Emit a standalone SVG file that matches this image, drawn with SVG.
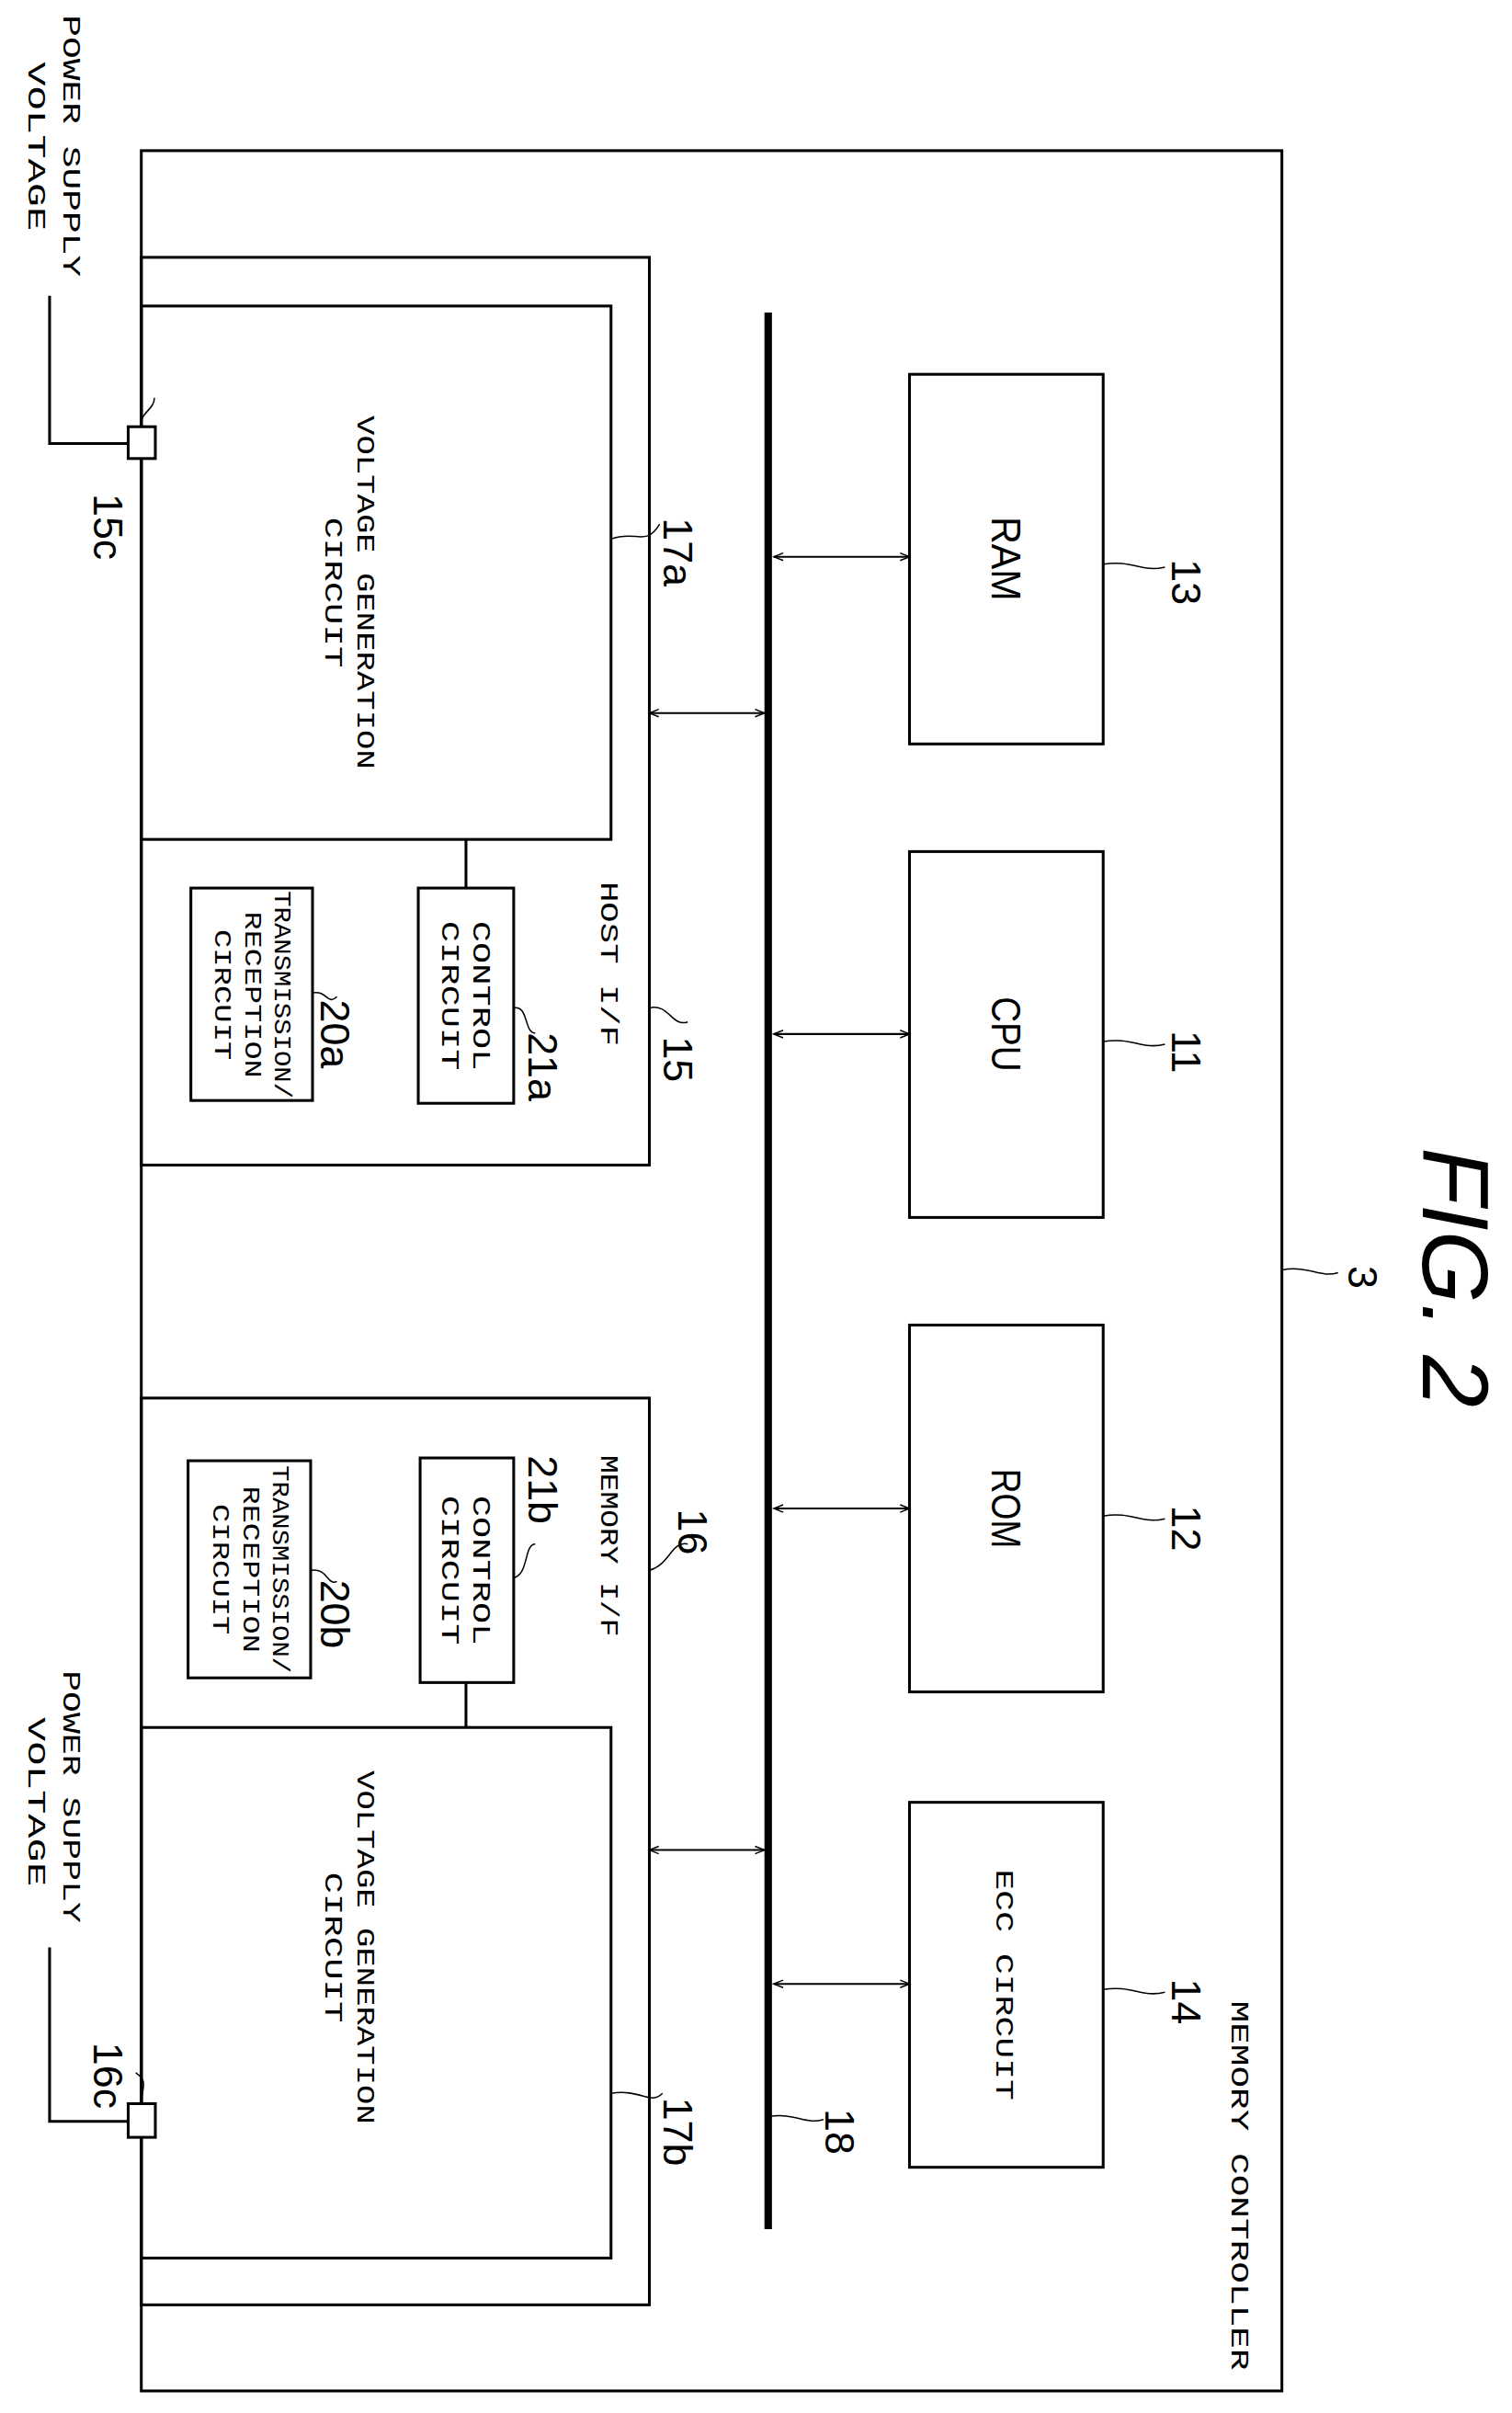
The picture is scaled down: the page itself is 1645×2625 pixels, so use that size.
<svg xmlns="http://www.w3.org/2000/svg" width="1645" height="2625" viewBox="0 0 1645 2625">
<style>
.b{fill:none;stroke:#000;stroke-width:3}
.l{fill:none;stroke:#000;stroke-width:1.5}
.t{font-family:"Liberation Mono",monospace;font-size:28px;fill:#000;text-anchor:middle}
.n{font-family:"Liberation Sans",sans-serif;font-size:44px;fill:#000;text-anchor:middle}
.a{stroke:#000;stroke-width:2;fill:none;marker-start:url(#h);marker-end:url(#h)}
</style>
<defs><marker id="h" viewBox="0 0 10 10" refX="10" refY="5" markerWidth="14" markerHeight="10" markerUnits="userSpaceOnUse" orient="auto-start-reverse"><path d="M0,1 L10,5 L0,9" fill="none" stroke="#000" stroke-width="1.5"/></marker></defs>
<rect width="1645" height="2625" fill="#fff"/>
<g transform="scale(1.018)">
<g id="controller3"><rect class="b" x="151" y="161" width="1219" height="2394"/>
<text class="t" transform="translate(1316,2138) rotate(90)" style="text-anchor:start" textLength="395" lengthAdjust="spacingAndGlyphs">MEMORY CONTROLLER</text></g>
<g id="host15"><rect class="b" x="151" y="275" width="543" height="970"/>
<text class="t" transform="translate(642,1030) rotate(90)" textLength="176" lengthAdjust="spacingAndGlyphs">HOST I/F</text></g>
<g id="vgc17a"><rect class="b" x="151" y="327" width="502" height="570"/>
<text class="t" transform="translate(392,633) rotate(90)"><tspan x="0" dy="10" textLength="378" lengthAdjust="spacingAndGlyphs">VOLTAGE GENERATION</tspan><tspan x="0" dy="34" textLength="161" lengthAdjust="spacingAndGlyphs">CIRCUIT</tspan></text></g>
<g id="ctrl21a"><rect class="b" x="447" y="949" width="102" height="230"/>
<text class="t" transform="translate(498,1064) rotate(90)"><tspan x="0" dy="-8" textLength="160" lengthAdjust="spacingAndGlyphs">CONTROL</tspan><tspan x="0" dy="34" textLength="160" lengthAdjust="spacingAndGlyphs">CIRCUIT</tspan></text></g>
<g id="trx20a"><rect class="b" x="204" y="949" width="130" height="227"/>
<text class="t" transform="translate(268,1063) rotate(90)" style="font-size:26px"><tspan x="0" dy="-26" textLength="222" lengthAdjust="spacingAndGlyphs">TRANSMISSION/</tspan><tspan x="0" dy="32" textLength="178" lengthAdjust="spacingAndGlyphs">RECEPTION</tspan><tspan x="0" dy="32" textLength="140" lengthAdjust="spacingAndGlyphs">CIRCUIT</tspan></text></g>
<g id="mem16"><rect class="b" x="151" y="1494" width="543" height="969"/>
<text class="t" transform="translate(642,1652) rotate(90)" textLength="194" lengthAdjust="spacingAndGlyphs">MEMORY I/F</text></g>
<g id="vgc17b"><rect class="b" x="151" y="1846" width="502" height="567"/>
<text class="t" transform="translate(392,2081) rotate(90)"><tspan x="0" dy="10" textLength="378" lengthAdjust="spacingAndGlyphs">VOLTAGE GENERATION</tspan><tspan x="0" dy="34" textLength="161" lengthAdjust="spacingAndGlyphs">CIRCUIT</tspan></text></g>
<g id="ctrl21b"><rect class="b" x="449" y="1558" width="100" height="240"/>
<text class="t" transform="translate(498,1678) rotate(90)"><tspan x="0" dy="-8" textLength="160" lengthAdjust="spacingAndGlyphs">CONTROL</tspan><tspan x="0" dy="34" textLength="160" lengthAdjust="spacingAndGlyphs">CIRCUIT</tspan></text></g>
<g id="trx20b"><rect class="b" x="201" y="1561" width="131" height="232"/>
<text class="t" transform="translate(266,1677) rotate(90)" style="font-size:26px"><tspan x="0" dy="-26" textLength="222" lengthAdjust="spacingAndGlyphs">TRANSMISSION/</tspan><tspan x="0" dy="32" textLength="178" lengthAdjust="spacingAndGlyphs">RECEPTION</tspan><tspan x="0" dy="32" textLength="140" lengthAdjust="spacingAndGlyphs">CIRCUIT</tspan></text></g>
<g id="ram13"><rect class="b" x="972" y="400" width="207" height="395"/><text class="n" transform="translate(1075,597) rotate(90)" dy="15" textLength="90" lengthAdjust="spacingAndGlyphs">RAM</text></g>
<g id="cpu11"><rect class="b" x="972" y="910" width="207" height="391"/><text class="n" transform="translate(1075,1105) rotate(90)" dy="15" textLength="80" lengthAdjust="spacingAndGlyphs">CPU</text></g>
<g id="rom12"><rect class="b" x="972" y="1416" width="207" height="392"/><text class="n" transform="translate(1075,1612) rotate(90)" dy="15" textLength="85" lengthAdjust="spacingAndGlyphs">ROM</text></g>
<g id="ecc14"><rect class="b" x="972" y="1926" width="207" height="390"/><text class="t" transform="translate(1075,2121) rotate(90)" dy="10" textLength="247" lengthAdjust="spacingAndGlyphs">ECC CIRCUIT</text></g>
<g id="pad15c"><rect x="137" y="456" width="29" height="34" fill="#fff" stroke="#000" stroke-width="3"/></g>
<g id="pad16c"><rect x="137" y="2248" width="29" height="36" fill="#fff" stroke="#000" stroke-width="3"/></g>
<g id="power1"><text class="t" transform="translate(0,16) rotate(90)" style="text-anchor:start"><tspan x="0" y="-68" textLength="280" lengthAdjust="spacingAndGlyphs">POWER SUPPLY</tspan><tspan x="50" y="-30" textLength="181" lengthAdjust="spacingAndGlyphs">VOLTAGE</tspan></text></g>
<g id="power2"><text class="t" transform="translate(0,1785) rotate(90)" style="text-anchor:start"><tspan x="0" y="-68" textLength="270" lengthAdjust="spacingAndGlyphs">POWER SUPPLY</tspan><tspan x="50" y="-30" textLength="181" lengthAdjust="spacingAndGlyphs">VOLTAGE</tspan></text></g>
<g id="connectors">
<line x1="821" y1="334" x2="821" y2="2382" stroke="#000" stroke-width="8"/>
<line class="a" x1="827" y1="595" x2="972" y2="595"/>
<line class="a" x1="827" y1="1105" x2="972" y2="1105"/>
<line class="a" x1="827" y1="1612" x2="972" y2="1612"/>
<line class="a" x1="827" y1="2120" x2="972" y2="2120"/>
<line class="a" x1="694" y1="762" x2="817" y2="762"/>
<line class="a" x1="694" y1="1977" x2="817" y2="1977"/>
<line x1="498" y1="897" x2="498" y2="949" stroke="#000" stroke-width="3"/>
<line x1="498" y1="1798" x2="498" y2="1846" stroke="#000" stroke-width="3"/>
<polyline class="b" points="137,474 53,474 53,316"/>
<polyline class="b" points="137,2267 53,2267 53,2081"/>
<path class="l" d="M1179,603 C1210,598 1220,612 1245,606"/>
<path class="l" d="M1179,1113 C1210,1108 1220,1122 1245,1116"/>
<path class="l" d="M1179,1620 C1210,1615 1220,1629 1245,1623"/>
<path class="l" d="M1179,2126 C1210,2121 1220,2135 1245,2129"/>
<path class="l" d="M1370,1357 C1400,1352 1410,1366 1430,1360"/>
<path class="l" d="M821,2262 C850,2257 860,2271 880,2265"/>
<path class="l" d="M653,576 C680,566 690,585 705,560"/>
<path class="l" d="M694,1077 C715,1072 718,1098 735,1092"/>
<path class="l" d="M549,1077 C565,1074 560,1104 572,1104"/>
<path class="l" d="M334,1061 C350,1058 350,1075 360,1065"/>
<path class="l" d="M694,1678 C715,1673 718,1646 735,1650"/>
<path class="l" d="M549,1686 C565,1683 560,1650 572,1650"/>
<path class="l" d="M332,1678 C350,1675 350,1695 360,1690"/>
<path class="l" d="M653,2237 C685,2232 695,2250 708,2237"/>
<path class="l" d="M150,456 C150,440 165,438 165,425"/>
<path class="l" d="M152,2248 C150,2232 160,2225 145,2215"/>
</g>
<g id="labels">
<text class="n" transform="translate(1267,622) rotate(90)" dy="15">13</text>
<text class="n" transform="translate(1267,1124) rotate(90)" dy="15">11</text>
<text class="n" transform="translate(1267,1633) rotate(90)" dy="15">12</text>
<text class="n" transform="translate(1267,2139) rotate(90)" dy="15">14</text>
<text class="n" transform="translate(1456,1365) rotate(90)" dy="15">3</text>
<text class="n" transform="translate(897,2278) rotate(90)" dy="15">18</text>
<text class="n" transform="translate(724,590) rotate(90)" dy="15">17a</text>
<text class="n" transform="translate(724,1132) rotate(90)" dy="15">15</text>
<text class="n" transform="translate(580,1140) rotate(90)" dy="15">21a</text>
<text class="n" transform="translate(358,1105) rotate(90)" dy="15">20a</text>
<text class="n" transform="translate(115,563) rotate(90)" dy="15">15c</text>
<text class="n" transform="translate(740,1637) rotate(90)" dy="15">16</text>
<text class="n" transform="translate(580,1592) rotate(90)" dy="15">21b</text>
<text class="n" transform="translate(358,1725) rotate(90)" dy="15">20b</text>
<text class="n" transform="translate(724,2278) rotate(90)" dy="15">17b</text>
<text class="n" transform="translate(115,2218) rotate(90)" dy="15">16c</text>
<text class="n" transform="translate(1555,1365) rotate(90)" dy="34" style="font-size:100px;font-style:italic">FIG. 2</text>
</g>
</g>
</svg>
